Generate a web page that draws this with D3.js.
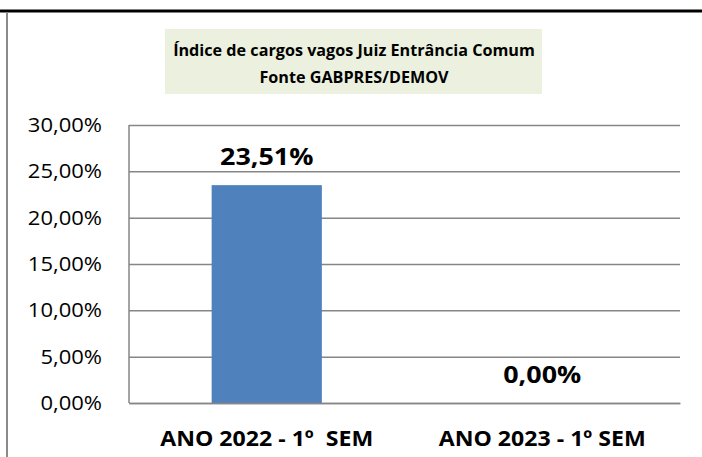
<!DOCTYPE html>
<html>
<head>
<meta charset="utf-8">
<script src="https://cdn.jsdelivr.net/npm/d3@7"></script>
<style>
  body { margin: 0; background: #fff; }
  svg { display: block; font-family: "Open Sans", "Noto Sans", sans-serif; }
</style>
</head>
<body>
<svg id="chart" width="702" height="457"></svg>
<script>
// chart data
const categories = ["ANO 2022 - 1º  SEM", "ANO 2023 - 1º SEM"];
const values = [0.2351, 0.0];
const yTicks = [0, 0.05, 0.10, 0.15, 0.20, 0.25, 0.30];
const titleLines = ["Índice de cargos vagos Juiz Entrância Comum", "Fonte GABPRES/DEMOV"];

const svg = d3.select("#chart");
const margin = { top: 125, bottom: 54, left: 129, right: 22 };
const width = 702 - margin.left - margin.right;
const height = 457 - margin.top - margin.bottom;

const fmt = v => (v * 100).toFixed(2).replace(".", ",") + "%";

// the original font is wider than Open Sans, so widen the text a little
function stretch(sel, factor) {
  sel.each(function() {
    const len = this.getComputedTextLength();
    d3.select(this)
        .attr("textLength", len * factor)
        .attr("lengthAdjust", "spacingAndGlyphs");
  });
}

// outer frame (top and left edges are visible)
svg.append("line")
    .attr("x1", 0).attr("x2", 702).attr("y1", 11).attr("y2", 11)
    .attr("stroke", "#000").attr("stroke-width", 3);
svg.append("line")
    .attr("x1", 7).attr("x2", 7).attr("y1", 12).attr("y2", 457)
    .attr("stroke", "#8a8a8a").attr("stroke-width", 2);

// title box
svg.append("rect")
    .attr("x", 165).attr("y", 29).attr("width", 377).attr("height", 65)
    .attr("fill", "#ebf1de");
svg.append("g").selectAll("text")
    .data(titleLines)
  .join("text")
    .attr("x", 354)
    .attr("y", (d, i) => 56 + i * 27)
    .attr("text-anchor", "middle")
    .attr("font-size", 16.5)
    .attr("font-weight", "bold")
    .attr("fill", "#000")
    .text(d => d)
    .call(stretch, 0.98);

const g = svg.append("g")
    .attr("transform", `translate(${margin.left},${margin.top})`);

const x = d3.scaleBand()
    .domain(categories)
    .range([0, width])
    .paddingInner(0.6)
    .paddingOuter(0.3);

const y = d3.scaleLinear()
    .domain([0, 0.30])
    .range([height, 0]);

// gridlines
g.append("g")
    .attr("class", "grid")
    .call(d3.axisLeft(y).tickValues(yTicks).tickSize(-width).tickFormat(""))
    .call(a => a.select(".domain").remove())
    .call(a => a.selectAll("line").attr("stroke", "#868686").attr("stroke-width", 1.5));

// left axis line
g.append("line")
    .attr("x1", 0).attr("x2", 0).attr("y1", 0).attr("y2", height)
    .attr("stroke", "#868686").attr("stroke-width", 1.5);

// y tick labels
g.append("g")
    .call(d3.axisLeft(y).tickValues(yTicks).tickSize(0).tickPadding(27).tickFormat(fmt))
    .call(a => a.select(".domain").remove())
    .call(a => a.selectAll("text")
        .attr("font-family", "'Open Sans', sans-serif")
        .attr("font-size", 20)
        .attr("fill", "#000")
        .call(stretch, 1.1));

// bars
g.selectAll("rect.bar")
    .data(values)
  .join("rect")
    .attr("class", "bar")
    .attr("x", (d, i) => x(categories[i]))
    .attr("y", d => y(d))
    .attr("width", x.bandwidth())
    .attr("height", d => height - y(d))
    .attr("fill", "#4f81bd");

// value labels
g.selectAll("text.value")
    .data(values)
  .join("text")
    .attr("class", "value")
    .attr("x", (d, i) => x(categories[i]) + x.bandwidth() / 2)
    .attr("y", d => y(d) - 20)
    .attr("text-anchor", "middle")
    .attr("font-size", 24)
    .attr("font-weight", "bold")
    .attr("fill", "#000")
    .text(fmt)
    .call(stretch, 1.12);

// bottom axis line and category labels
g.append("g")
    .attr("transform", `translate(0,${height})`)
    .call(d3.axisBottom(x).tickSize(0).tickPadding(28))
    .call(a => a.select(".domain").attr("stroke", "#868686").attr("stroke-width", 1.5))
    .call(a => a.selectAll("text")
        .attr("font-family", "'Open Sans', sans-serif")
        .attr("font-size", 21)
        .attr("font-weight", "bold")
        .attr("fill", "#000")
        .style("white-space", "pre")
        .call(stretch, 1.1));
</script>
</body>
</html>
